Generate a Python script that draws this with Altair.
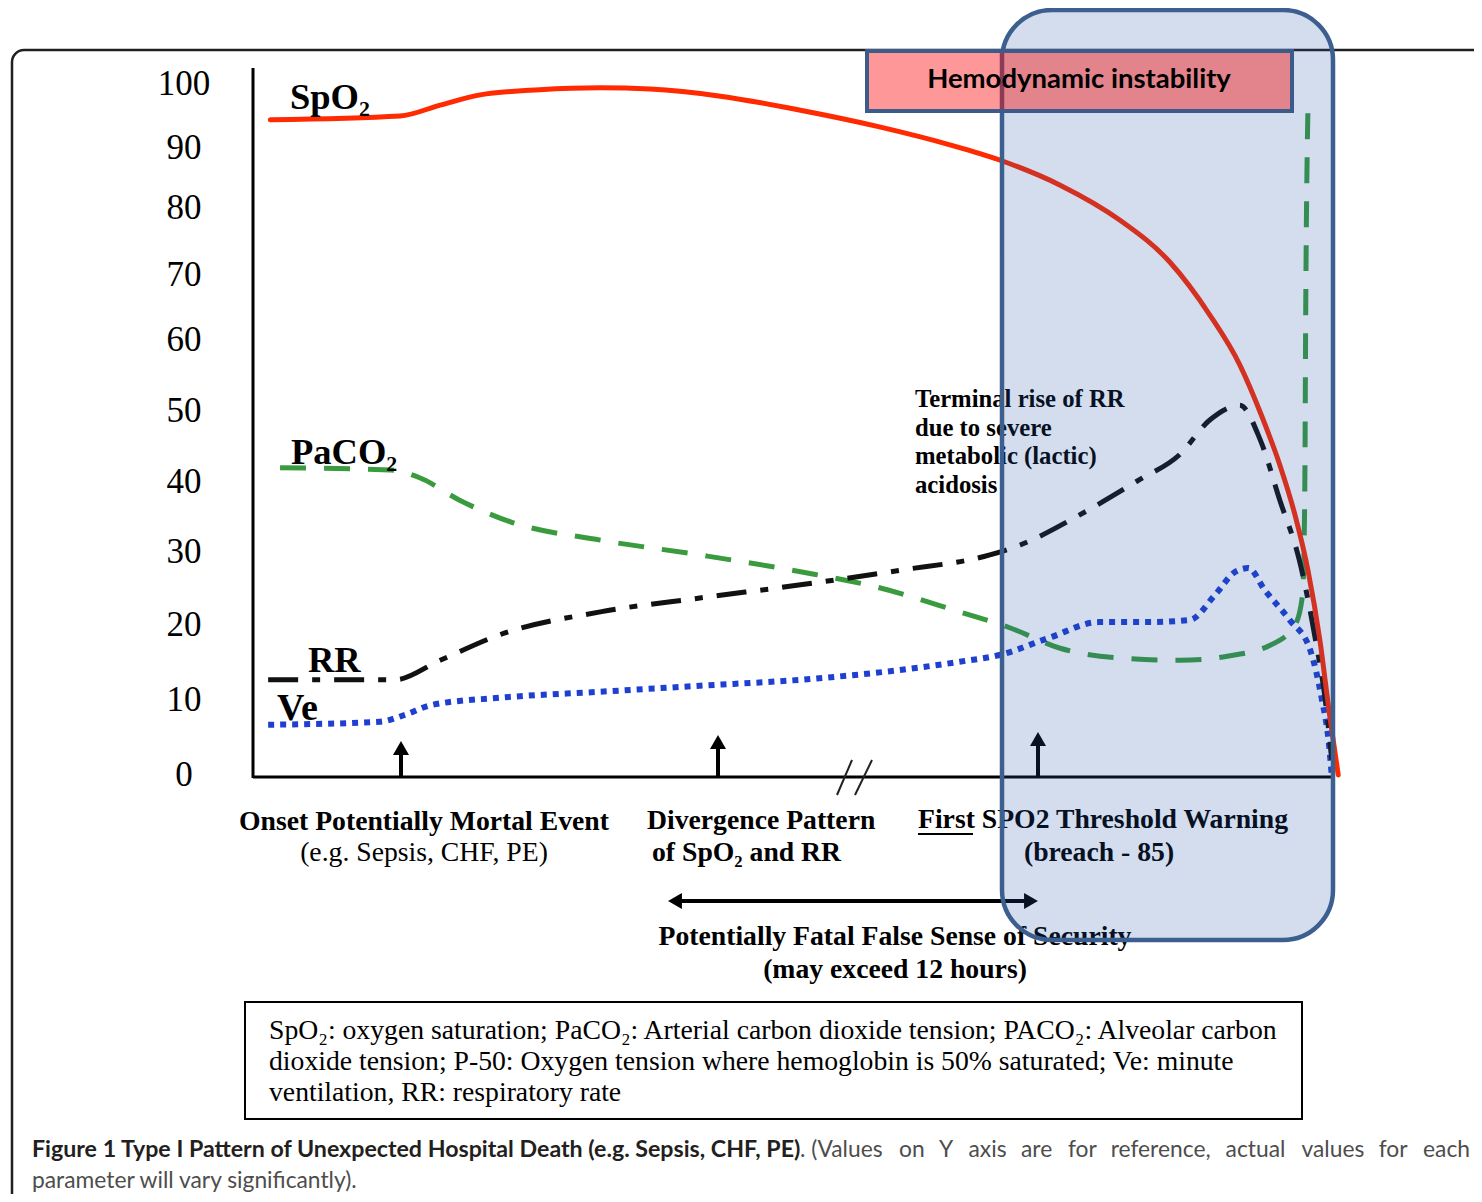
import altair as alt
import pandas as pd

# ---------------- data ----------------
TICKS = [0, 10, 20, 30, 40, 50, 60, 70, 80, 90, 100]

SPO2_T = [1.6, 13.6, 17.3, 21.0, 26.5, 32.1, 36.7, 43.2, 50.6, 57.9, 64.4, 69.0, 74.6, 80.1, 84.75, 88.45, 91.2, 93.2, 94.9, 96.3, 97.5, 98.6, 99.5, 100.3]
SPO2_V = [94.4, 95.0, 96.7, 98.3, 99.1, 99.4, 99.2, 98.1, 95.9, 93.3, 90.5, 88.0, 83.8, 78.2, 71.9, 63.8, 56.5, 49.4, 42.4, 35.3, 27.5, 18.0, 8.0, 0.0]

PACO2_T = [2.5, 12.7, 15.4, 19.1, 23.8, 32.1, 41.3, 50.6, 57.9, 65.3, 70.0, 74.6, 80.1, 85.7, 90.3, 94.0, 96.3, 97.0, 97.2, 97.3, 97.5]
PACO2_V = [42.0, 41.7, 40.6, 37.4, 34.3, 31.7, 29.6, 27.3, 25.1, 21.8, 19.6, 16.9, 15.6, 15.3, 15.9, 17.3, 20.0, 24.1, 37.4, 66.2, 96.3]

RR_T = [1.4, 13.1, 17.3, 22.8, 32.1, 41.3, 50.6, 59.8, 68.1, 70.9, 76.4, 81.9, 85.6, 88.4, 91.2, 93.1, 94.9, 96.7, 98.2, 99.1, 99.7]
RR_V = [12.7, 12.7, 15.3, 18.7, 21.8, 23.7, 25.5, 27.5, 29.6, 31.0, 35.3, 40.3, 43.8, 48.7, 50.8, 45.9, 37.4, 28.9, 18.0, 10.0, 2.0]

VE_T = [1.4, 11.7, 14.0, 16.4, 22.8, 32.1, 41.3, 50.6, 59.8, 65.3, 69.0, 73.6, 78.2, 82.8, 86.6, 88.9, 90.8, 92.0, 93.5, 95.8, 97.7, 98.8, 99.4, 99.7]
VE_V = [6.7, 7.1, 8.0, 9.3, 10.3, 11.1, 11.9, 12.7, 14.0, 15.1, 16.0, 18.3, 20.4, 20.4, 20.7, 24.1, 27.3, 27.8, 24.8, 20.7, 16.7, 10.0, 4.7, 0.0]

LEGEND_LINES = [
    "SpO\u2082: oxygen saturation; PaCO\u2082: Arterial carbon dioxide tension; PACO\u2082: Alveolar carbon",
    "dioxide tension; P-50: Oxygen tension where hemoglobin is 50% saturated; Ve: minute",
    "ventilation, RR: respiratory rate",
]
CAPTION_BOLD = "Figure 1 Type I Pattern of Unexpected Hospital Death (e.g. Sepsis, CHF, PE)"
CAPTION_WORDS_LEFT = [". (Values", "on", "Y", "axis", "are", "for"]
CAPTION_WORDS_RIGHT = ["reference,", "actual", "values", "for", "each"]
CAPTION_LINE2 = "parameter will vary significantly)."

SERIF = "Liberation Serif"
SANS = "Lato"

# ---------------- scales ----------------
XS = alt.Scale(domain=[0, 100], range=[245, 1327], zero=False, nice=False)
YS = alt.Scale(domain=TICKS, range=[767, 692, 617, 544, 474, 403, 332, 267, 200, 140, 76], zero=False, nice=False)


def PX(f):
    return alt.X(f, type="quantitative", scale=alt.Scale(domain=[8, 1474], range=[0, 1466], zero=False, nice=False), axis=None)


def PY(f):
    return alt.Y(f, type="quantitative", scale=alt.Scale(domain=[8, 1194], range=[0, 1186], zero=False, nice=False), axis=None)


def curve(t, v, color, width, dash=None, cap="butt"):
    df = pd.DataFrame({"t": t, "v": v})
    kw = dict(color=color, strokeWidth=width, interpolate="monotone", strokeCap=cap)
    if dash is not None:
        kw["strokeDash"] = dash
    return alt.Chart(df).mark_line(**kw).encode(
        x=alt.X("t:Q", scale=XS, axis=None),
        y=alt.Y("v:Q", scale=YS, axis=None),
        order="t:Q",
    )


def texts(rows, size, weight="normal", font=SERIF, align="left", color="black"):
    df = pd.DataFrame(rows, columns=["x", "y", "s"])
    return alt.Chart(df).mark_text(
        font=font, fontSize=size, fontWeight=weight, align=align, baseline="middle", color=color
    ).encode(x=PX("x:Q"), y=PY("y:Q"), text="s:N")


def rules(rows, color="black", width=3, cap="butt"):
    df = pd.DataFrame(rows, columns=["x", "y", "x2", "y2"])
    return alt.Chart(df).mark_rule(color=color, strokeWidth=width, strokeCap=cap).encode(
        x=PX("x:Q"), y=PY("y:Q"), x2="x2:Q", y2="y2:Q"
    )


def rect(x, x2, y, y2, **kw):
    df = pd.DataFrame({"x": [x], "x2": [x2], "y": [y], "y2": [y2]})
    return alt.Chart(df).mark_rect(**kw).encode(x=PX("x:Q"), x2="x2:Q", y=PY("y:Q"), y2="y2:Q")


def heads(rows, shape, size=256, color="black"):
    df = pd.DataFrame(rows, columns=["x", "y"])
    return alt.Chart(df).mark_point(shape=shape, filled=True, size=size, color=color, opacity=1).encode(
        x=PX("x:Q"), y=PY("y:Q")
    )


layers = []

# outer frame
layers.append(rect(12, 1500, 50, 1230, fill=None, stroke="#231f20", strokeWidth=2.5, cornerRadius=12))

# axes lines
layers.append(rules([(253, 68, 253, 778), (253, 777, 1335, 777)], width=3))
layers.append(rules([(837, 795, 852, 760), (855, 795, 872, 760)], color="#222", width=2))

# tick labels through the value scale
tick_df = pd.DataFrame({"v": TICKS, "s": [str(t) for t in TICKS]})
layers.append(
    alt.Chart(tick_df).mark_text(font=SERIF, fontSize=35, align="center", baseline="middle", color="black").encode(
        x=alt.value(176), y=alt.Y("v:Q", scale=YS, axis=None), text="s:N"
    )
)

# curves
layers.append(curve(PACO2_T, PACO2_V, "#3a9b3e", 5, dash=[26, 18]))
layers.append(curve(VE_T, VE_V, "#1f3fd0", 6, dash=[6, 6]))
layers.append(curve(RR_T, RR_V, "#111111", 5, dash=[30, 14, 8, 14]))
layers.append(curve(SPO2_T, SPO2_V, "#ff2a00", 5, cap="round"))

# series labels
layers.append(texts([(290, 98, "SpO\u2082"), (291, 453, "PaCO\u2082"), (308, 661, "RR")], 36.5, "bold"))
layers.append(texts([(277, 709, "Ve")], 38, "bold"))

# arrows
layers.append(rules([(401, 776, 401, 752), (718, 777, 718, 748), (1038, 777, 1038, 746), (680, 901, 1026, 901)], width=4))
layers.append(heads([(401, 748), (718, 742), (1038, 739)], "triangle-up"))
layers.append(heads([(675, 901)], "triangle-left"))
layers.append(heads([(1031, 901)], "triangle-right"))

# event texts
layers.append(texts([
    (424, 822, "Onset Potentially Mortal Event"),
    (895, 937, "Potentially Fatal False Sense of Security"),
    (895, 970, "(may exceed 12 hours)"),
    (1099, 853, "(breach - 85)"),
], 27.7, "bold", align="center"))
layers.append(texts([(424, 853, "(e.g. Sepsis, CHF, PE)")], 27.7, "normal", align="center"))
layers.append(texts([
    (647, 821, "Divergence Pattern"),
    (652, 853, "of SpO\u2082 and RR"),
    (918, 820, "First SPO2 Threshold Warning"),
], 27.7, "bold"))
layers.append(rules([(918, 834, 973, 834)], width=2))

layers.append(texts([
    (915, 400, "Terminal rise of RR"),
    (915, 429, "due to severe"),
    (915, 457, "metabolic (lactic)"),
    (915, 486, "acidosis"),
], 24.7, "bold"))

# legend box
layers.append(rect(245, 1302, 1002, 1119, fill=None, stroke="black", strokeWidth=2))
layers.append(texts([(269, 1031, LEGEND_LINES[0]), (269, 1062, LEGEND_LINES[1]), (269, 1093, LEGEND_LINES[2])], 27.7))

# caption (first line is justified in the reference: words spread to the right edge)
CAP_GREY = "#4d4d4d"
left_x = [800, 899, 939, 968.5, 1021, 1068]
right_x = [1210.6, 1285.4, 1364.3, 1407.6, 1470]
layers.append(texts([(32, 1150, CAPTION_BOLD)], 23.2, "bold", font=SANS, color="#231f20"))
layers.append(texts([(x, 1150, w) for x, w in zip(left_x, CAPTION_WORDS_LEFT)] + [(32, 1181, CAPTION_LINE2)],
                    22.8, "normal", font=SANS, color=CAP_GREY))
layers.append(texts([(x, 1150, w) for x, w in zip(right_x, CAPTION_WORDS_RIGHT)],
                    22.8, "normal", font=SANS, color=CAP_GREY, align="right"))

# translucent highlight box
layers.append(rect(1002, 1333, 10, 940, fill="#2255aa", fillOpacity=0.2, stroke="#3d5f8f", strokeWidth=4.5, cornerRadius=50))

# hemodynamic instability box
layers.append(rect(867, 1002, 51, 111, fill="#fe9898", stroke=None))
layers.append(rect(1002, 1292, 51, 111, fill="#e3838b", stroke=None))
layers.append(rules([(1002, 53, 1002, 109)], color="#8c3a58", width=4.5))
layers.append(rect(867, 1292, 51, 111, fill=None, stroke="#3c5a8a", strokeWidth=4))
layers.append(texts([(1079, 80, "Hemodynamic instability")], 27.5, "bold", font=SANS, align="center"))

chart = (
    alt.layer(*layers)
    .resolve_scale(x="independent", y="independent")
    .properties(width=1466, height=1186, padding=0, autosize="none", background="white")
    .configure_view(stroke=None)
)

chart.save("out.html", embed_options={"renderer": "svg", "actions": False})
